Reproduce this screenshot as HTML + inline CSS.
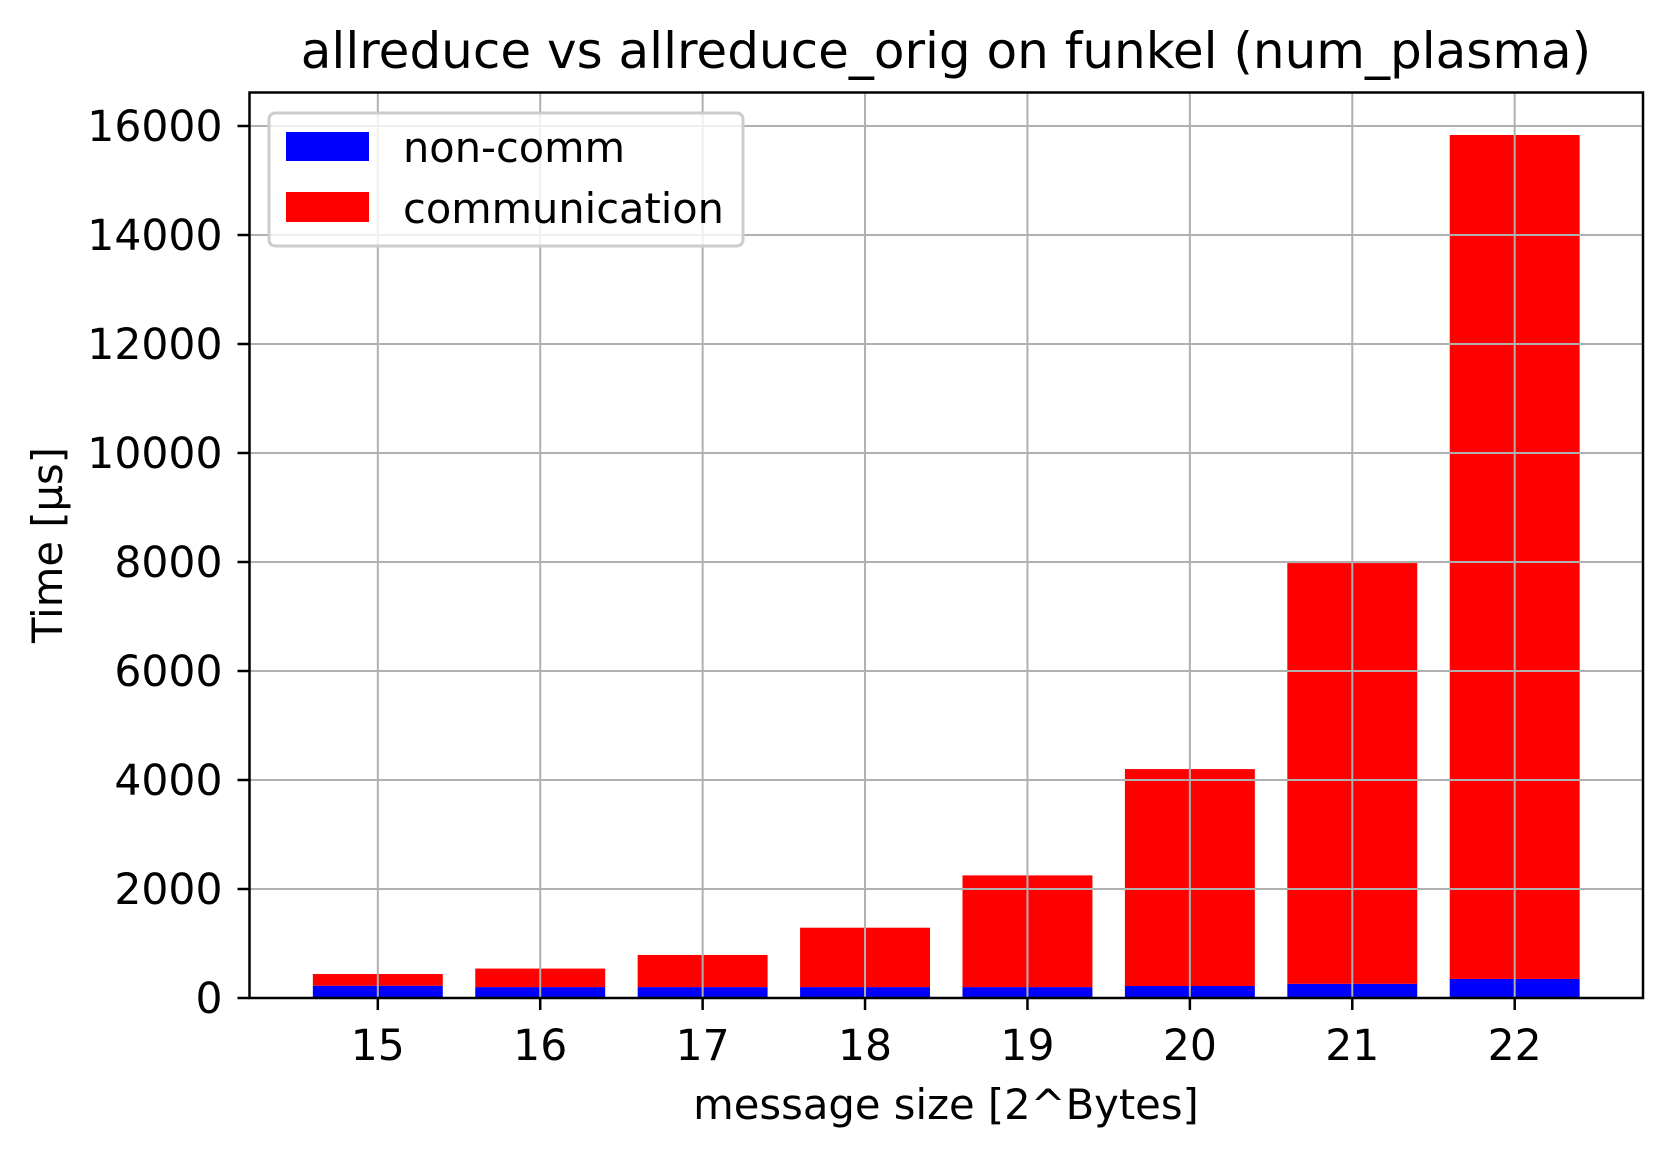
<!DOCTYPE html>
<html><head><meta charset="utf-8"><style>
body{margin:0;background:#fff}
svg text{font-family:"DejaVu Sans","Liberation Sans",sans-serif;fill:#000}
</style></head><body>
<svg id="chart" width="1673" height="1154" xmlns="http://www.w3.org/2000/svg">
<rect width="1673" height="1154" fill="#fff"/>
<g id="grid"></g>
<g id="bars"></g>
<g id="gridtop"></g>
<g id="axes"></g>
<text x="946" y="68" font-size="50" text-anchor="middle">allreduce vs allreduce_orig on funkel (num_plasma)</text>
<text x="946" y="1119" font-size="41.7" text-anchor="middle">message size [2^Bytes]</text>
<text transform="translate(62,545) rotate(-90)" font-size="41.7" text-anchor="middle">Time [µs]</text>
<g>
<rect x="269" y="113" width="474" height="133" rx="6" fill="#fff" fill-opacity="0.8" stroke="#ccc" stroke-width="3"/>
<rect x="286" y="132" width="83" height="29" fill="#0000ff"/>
<text x="403" y="162" font-size="41.5">non-comm</text>
<rect x="286" y="192" width="83" height="30" fill="#ff0000"/>
<text x="403" y="223" font-size="41.5">communication</text>
</g>
</svg>
<script>
const categories=[15,16,17,18,19,20,21,22];
const nonComm=[225,200,200,200,200,220,260,350];
const total=[440,540,790,1290,2250,4200,7980,15835];
const yTicks=[0,2000,4000,6000,8000,10000,12000,14000,16000];

const NS="http://www.w3.org/2000/svg";
const L=249.5,R=1643,T=92.5,B=998;
const xMin=14.21,xMax=22.79;
function xs(v){return L+(v-xMin)/(xMax-xMin)*(R-L);}
function ys(v){return B-v/2000*109;}
function mk(tag,attrs,parent){const e=document.createElementNS(NS,tag);for(const k in attrs)e.setAttribute(k,attrs[k]);parent.appendChild(e);return e;}
const gridG=document.getElementById('grid'),barsG=document.getElementById('bars'),axesG=document.getElementById('axes'),gridTopG=document.getElementById('gridtop');
yTicks.forEach(t=>{
  const y=ys(t);
  const g=mk('line',{x1:L,x2:R,y1:y,y2:y,stroke:'#b0b0b0','stroke-width':2},gridTopG);
  
  
  const tk=mk('line',{x1:L-12,x2:L,y1:y,y2:y,stroke:'#000','stroke-width':2.5},axesG);
  
  
  const tx=mk('text',{x:L-27,y:y+15,'font-size':42.5,'text-anchor':'end'},axesG);
  tx.textContent=t;
  
  
});
categories.forEach((c,i)=>{
  const x=xs(c);
  const g=mk('line',{x1:x,x2:x,y1:T,y2:B,stroke:'#b0b0b0','stroke-width':2},gridTopG);
  
  
  const w=xs(c+0.4)-xs(c-0.4);
  const b=mk('rect',{x:xs(c-0.4),y:ys(nonComm[i]),width:w,height:ys(0)-ys(nonComm[i]),fill:'#0000ff'},barsG);
  
  
  const r=mk('rect',{x:xs(c-0.4),y:ys(total[i]),width:w,height:ys(nonComm[i])-ys(total[i]),fill:'#ff0000'},barsG);
  
  
  const tk=mk('line',{x1:x,x2:x,y1:B,y2:B+12,stroke:'#000','stroke-width':2.5},axesG);
  
  
  const tx=mk('text',{x:x,y:B+62,'font-size':42.5,'text-anchor':'middle'},axesG);
  tx.textContent=c;
  
  
});
const frame=mk('rect',{x:L,y:T,width:R-L,height:B-T,fill:'none',stroke:'#000','stroke-width':2.5},axesG);


</script>
</body></html>
